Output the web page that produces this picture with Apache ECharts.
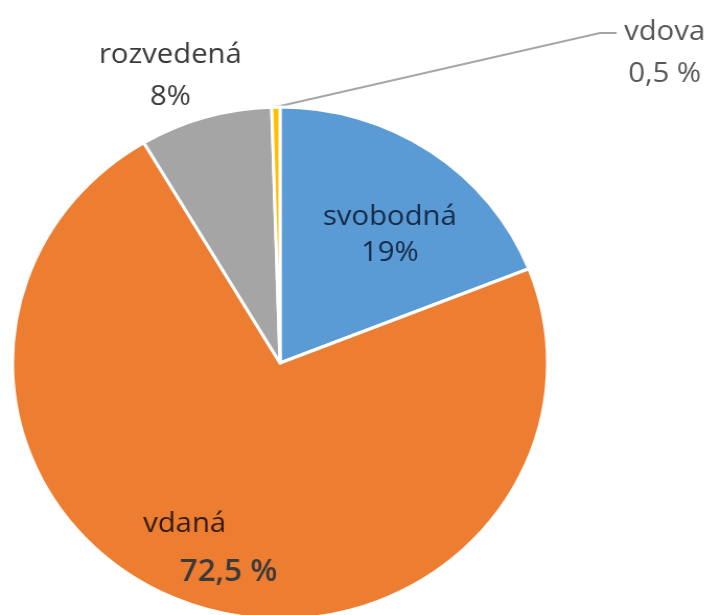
<!DOCTYPE html>
<html>
<head>
<meta charset="utf-8">
<script src="https://cdn.jsdelivr.net/npm/echarts@6/dist/echarts.min.js"></script>
<style>
html,body{margin:0;padding:0;background:#fff;overflow:hidden;width:713px;height:615px;}
#chart{width:682px;height:615px;transform:scaleX(1.045);transform-origin:0 0;}
</style>
</head>
<body>
<div id="chart"></div>
<script>
const categories = ['svobodná', 'vdaná', 'rozvedená', 'vdova'];
const values = [19, 72.5, 8, 0.5];
const valueLabels = ['19%', '72,5 %', '8%', '0,5 %'];
const colors = ['#5B9BD5', '#ED7D31', '#A5A5A5', '#FFC000'];

const chart = echarts.init(document.getElementById('chart'));
const FONT = '"Open Sans", "Noto Sans", sans-serif';

// label placements (text only), in chart units before the horizontal stretch
const labelPos = [
  { x: 373, y: 235, align: 'center' },
  { x: 137, y: 548, align: 'left' },
  { x: 163, y: 76, align: 'center' },
  { x: 636, y: 53, align: 'center' }
];

const data = categories.map((name, i) => ({
  name: name,
  value: values[i],
  itemStyle: { color: colors[i] }
}));

data[0].label = {
  position: 'inside',
  formatter: '{a|' + categories[0] + '}\n{a|' + valueLabels[0] + '}',
  rich: { a: { fontSize: 28, color: '#152A47', lineHeight: 36, fontFamily: FONT, align: 'center' } }
};
data[1].label = {
  position: 'inside',
  formatter: '{a|' + categories[1] + '}\n{b|' + valueLabels[1] + '}',
  rich: {
    a: { fontSize: 28, color: '#331a0c', lineHeight: 48, fontFamily: FONT },
    b: { fontSize: 30, fontWeight: 600, color: '#3a3a3a', lineHeight: 48, fontFamily: FONT, padding: [0, 0, 0, 35] }
  }
};
data[2].label = {
  formatter: '{a|' + categories[2] + '}\n{a|' + valueLabels[2] + '}',
  rich: { a: { fontSize: 28, color: '#3a3a3a', lineHeight: 42, fontFamily: FONT, align: 'center' } }
};
data[3].label = {
  formatter: '{a|' + categories[3] + '}\n{a|' + valueLabels[3] + '}',
  rich: { a: { fontSize: 28, color: '#555555', lineHeight: 42, fontFamily: FONT, align: 'center' } }
};
data[3].labelLine = { show: true, lineStyle: { color: '#A6A6A6', width: 2 } };

chart.setOption({
  backgroundColor: '#ffffff',
  animation: false,
  series: [{
    type: 'pie',
    center: [268, 363],
    radius: [0, 256],
    startAngle: 90,
    clockwise: true,
    itemStyle: { borderColor: '#ffffff', borderWidth: 3 },
    label: { show: true, position: 'outside', fontFamily: FONT, overflow: 'none' },
    labelLine: { show: false },
    labelLayout: function (params) {
      const p = labelPos[params.dataIndex];
      const out = { x: p.x, y: p.y, align: p.align, verticalAlign: 'middle' };
      if (params.dataIndex === 3 && params.labelLinePoints) {
        const start = params.labelLinePoints[0];
        const endY = p.y - 20;
        out.labelLinePoints = [start, [p.x - 62, endY], [p.x - 46, endY]];
      }
      return out;
    },
    data: data
  }]
});
</script>
</body>
</html>
